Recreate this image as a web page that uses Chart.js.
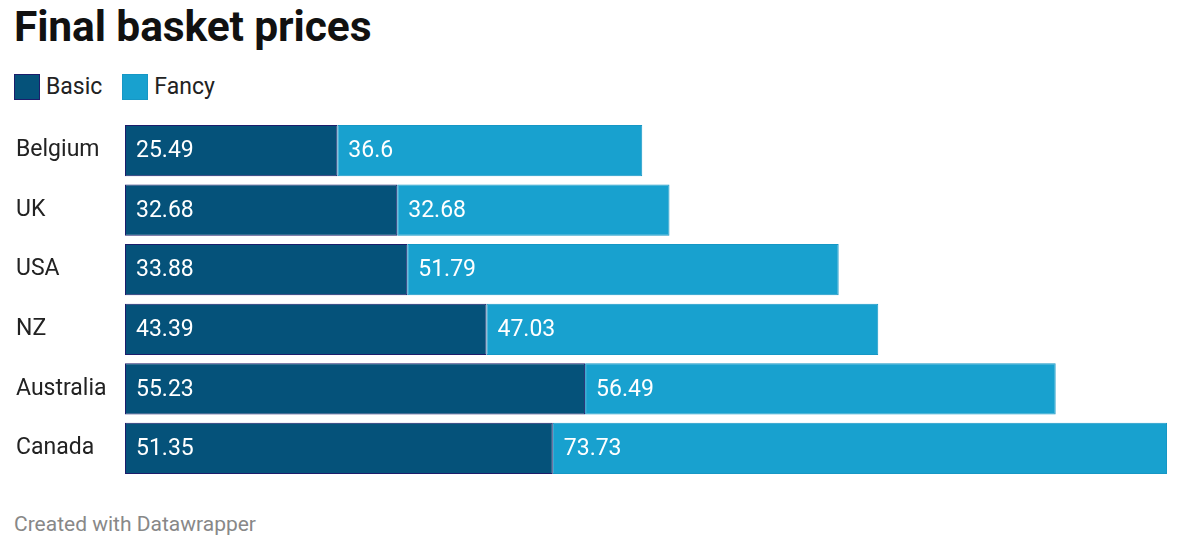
<!DOCTYPE html>
<html>
<head>
<meta charset="utf-8">
<script src="https://cdn.jsdelivr.net/npm/chart.js@4"></script>
<style>
  html, body { margin: 0; padding: 0; background: #fff; width: 1186px; height: 542px; overflow: hidden; font-family: Roboto, sans-serif; }
  #title { position: absolute; left: 14px; top: 2px; font-size: 42.5px; font-weight: 700; color: #111; letter-spacing: -0.1px; }
  #legend { position: absolute; left: 14px; top: 73px; display: flex; align-items: center; font-size: 23px; color: #222; }
  .sw { width: 24px; height: 24px; display: inline-block; margin-right: 6px; }
  .item { display: flex; align-items: center; margin-right: 20px; }
  #footer { position: absolute; left: 14px; top: 512px; font-size: 21px; color: #888; }
  #wrap { position: absolute; left: 0; top: 107px; width: 1186px; height: 385px; }
</style>
</head>
<body>
<div id="title">Final basket prices</div>
<div id="legend">
  <div class="item"><span class="sw" style="background:#05527a;border:1px solid #1c1d6b"></span>Basic</div>
  <div class="item"><span class="sw" style="background:#18a1cf;border:1px solid #1697c5"></span>Fancy</div>
</div>
<div id="wrap"><canvas id="c"></canvas></div>
<div id="footer">Created with Datawrapper</div>
<script>
const categories = ["Belgium", "UK", "USA", "NZ", "Australia", "Canada"];
const basic = [25.49, 32.68, 33.88, 43.39, 55.23, 51.35];
const fancy = [36.6, 32.68, 51.79, 47.03, 56.49, 73.73];
const seriesNames = ["Basic", "Fancy"];

const valueLabels = {
  id: 'valueLabels',
  afterDatasetsDraw(chart) {
    const ctx = chart.ctx;
    ctx.save();
    ctx.font = '23px Roboto';
    ctx.fillStyle = '#ffffff';
    ctx.textAlign = 'left';
    ctx.textBaseline = 'middle';
    chart.data.datasets.forEach((ds, i) => {
      chart.getDatasetMeta(i).data.forEach((el, j) => {
        ctx.fillText(String(ds.data[j]), el.base + 11, el.y + 1);
      });
    });
    ctx.restore();
  }
};

new Chart(document.getElementById('c'), {
  type: 'bar',
  data: {
    labels: categories,
    datasets: [
      { label: seriesNames[0], data: basic, backgroundColor: '#05527a', borderColor: '#1c1d6b', borderWidth: 1, borderSkipped: false },
      { label: seriesNames[1], data: fancy, backgroundColor: '#18a1cf', borderColor: '#1697c5', borderWidth: 1, borderSkipped: false }
    ]
  },
  options: {
    indexAxis: 'y',
    responsive: true,
    maintainAspectRatio: false,
    animation: false,
    barPercentage: 0.86,
    categoryPercentage: 1,
    layout: { padding: { left: 16, right: 19, top: 0, bottom: 0 } },
    plugins: { legend: { display: false }, title: { display: false }, tooltip: { enabled: false } },
    scales: {
      x: { stacked: true, min: 0, max: 125.08, display: false },
      y: {
        stacked: true,
        grid: { display: false },
        border: { display: false },
        ticks: { crossAlign: 'far', color: '#222', font: { family: 'Roboto', size: 23 }, padding: 0 },
        afterFit(scale) { scale.width = 109; }
      }
    }
  },
  plugins: [valueLabels]
});
</script>
</body>
</html>
